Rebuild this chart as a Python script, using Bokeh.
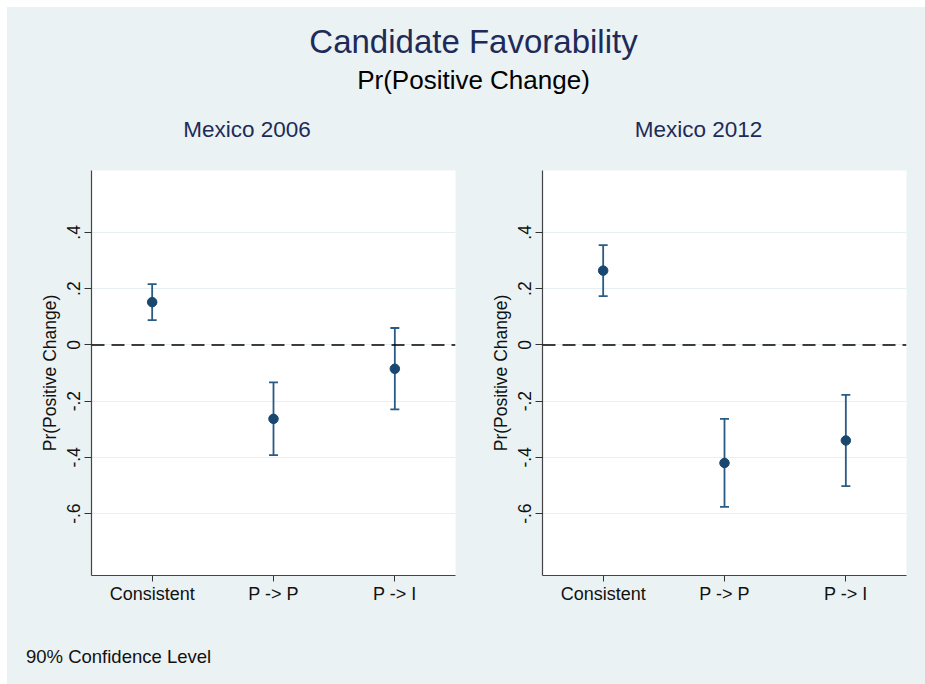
from bokeh.plotting import figure
from bokeh.layouts import column, row
from bokeh.models import (Range1d, FactorRange, ColumnDataSource, Whisker, TeeHead,
                          Span, FixedTicker, CustomJSTickFormatter, Spacer)
from bokeh.core.properties import value
from bokeh.embed import file_html
from bokeh.resources import INLINE

# ---------------- data ----------------
categories = ["Consistent", "P -> P", "P -> I"]

est_2006 = [0.152, -0.263, -0.085]
lo_2006 = [0.088, -0.392, -0.229]
hi_2006 = [0.216, -0.133, 0.060]

est_2012 = [0.264, -0.420, -0.340]
lo_2012 = [0.173, -0.576, -0.502]
hi_2012 = [0.355, -0.263, -0.178]

y_ticks = [-0.6, -0.4, -0.2, 0.0, 0.2, 0.4]

title_text = "Candidate Favorability"
subtitle_text = "Pr(Positive Change)"
panel_titles = ["Mexico 2006", "Mexico 2012"]
y_label = "Pr(Positive Change)"
note_text = "90% Confidence Level"

# ---------------- style ----------------
BG = "#eaf2f3"
NAVY = "#1a476f"
BAR = "#2a5a86"
TITLE_NAVY = "#1e2b59"
FONT = "Liberation Sans"
TOTAL_W = 918
HEAD_H = 152
PANEL_H = 453
FOOT_H = 72


def text_fig(w, h):
    f = figure(width=w, height=h, x_range=Range1d(0, w), y_range=Range1d(h, 0),
               output_backend="svg", toolbar_location=None,
               min_border=0, min_border_left=0, min_border_right=0,
               min_border_top=0, min_border_bottom=0)
    f.axis.visible = False
    f.grid.visible = False
    f.outline_line_color = None
    f.background_fill_color = BG
    f.border_fill_color = BG
    return f


header = text_fig(TOTAL_W, HEAD_H)
header.text(x=[466], y=[33.5], text=[title_text], text_font=value(FONT),
            text_font_size="33px", text_color=TITLE_NAVY, text_align="center",
            text_baseline="alphabetic")
header.text(x=[466], y=[72], text=[subtitle_text], text_font=value(FONT),
            text_font_size="26px", text_color="black", text_align="center",
            text_baseline="alphabetic")
header.text(x=[239.6, 691.0], y=[122, 122], text=panel_titles, text_font=value(FONT),
            text_font_size="22.5px", text_color=TITLE_NAVY, text_align="center",
            text_baseline="alphabetic")


def panel(est, lo, hi, w, left, right):
    p = figure(width=w, height=PANEL_H, x_range=FactorRange(*categories, range_padding=0),
               y_range=Range1d(-0.82, 0.62), output_backend="svg", toolbar_location=None,
               min_border_left=left, min_border_right=right,
               min_border_top=11, min_border_bottom=37)
    p.background_fill_color = "white"
    p.border_fill_color = BG
    p.outline_line_color = None
    p.xgrid.visible = False
    p.ygrid.grid_line_color = "#e6eff1"
    p.ygrid.grid_line_width = 1
    p.yaxis.ticker = FixedTicker(ticks=y_ticks)
    p.yaxis.formatter = CustomJSTickFormatter(code="""
        if (Math.abs(tick) < 1e-9) { return '0'; }
        return tick.toFixed(1).replace('0.', '.');
    """)
    p.yaxis.major_label_orientation = "vertical"
    p.yaxis.axis_label = y_label
    for ax in (p.xaxis[0], p.yaxis[0]):
        ax.axis_line_color = "#444444"
        ax.axis_line_width = 1.2
        ax.major_tick_line_color = "#333333"
        ax.major_tick_in = 0
        ax.minor_tick_line_color = None
        ax.major_label_text_font = FONT
        ax.major_label_text_color = "#111111"
        ax.axis_label_text_font = FONT
        ax.axis_label_text_font_style = "normal"
        ax.axis_label_text_color = "#111111"
    p.yaxis.major_tick_out = 7
    p.xaxis.major_tick_out = 6
    p.yaxis.major_label_text_font_size = "17.5px"
    p.xaxis.major_label_text_font_size = "18px"
    p.yaxis.axis_label_text_font_size = "17.5px"
    p.yaxis.major_label_standoff = 5
    p.yaxis.axis_label_standoff = 4
    p.xaxis.major_label_standoff = 2

    p.add_layout(Span(location=0, dimension="width", line_color="black",
                      line_width=1.5, line_dash="13 7"))

    src = ColumnDataSource(dict(cat=categories, est=est, lo=lo, hi=hi))
    p.add_layout(Whisker(source=src, base="cat", upper="hi", lower="lo",
                         line_color=BAR, line_width=1.8,
                         upper_head=TeeHead(size=9, line_color=BAR, line_width=1.8),
                         lower_head=TeeHead(size=9, line_color=BAR, line_width=1.8)))
    p.scatter(x="cat", y="est", source=src, size=9.5, marker="circle",
              fill_color=NAVY, line_color=NAVY)
    return p


left = panel(est_2006, lo_2006, hi_2006, 456, 84, 8)
right = panel(est_2012, lo_2012, hi_2012, 462, 79, 19)

footer = text_fig(TOTAL_W, FOOT_H)
footer.text(x=[18.5], y=[44], text=[note_text], text_font=value(FONT),
            text_font_size="18.5px", text_color="#111111", text_align="left",
            text_baseline="alphabetic")

panels = row(left, right, spacing=0, styles={"background-color": BG})
inner = column(header, panels, footer, spacing=0, styles={"background-color": BG})
layout = column(Spacer(width=925, height=7),
                row(Spacer(width=7, height=677), inner, spacing=0),
                spacing=0)

open("out.html", "w").write(file_html(layout, INLINE))
